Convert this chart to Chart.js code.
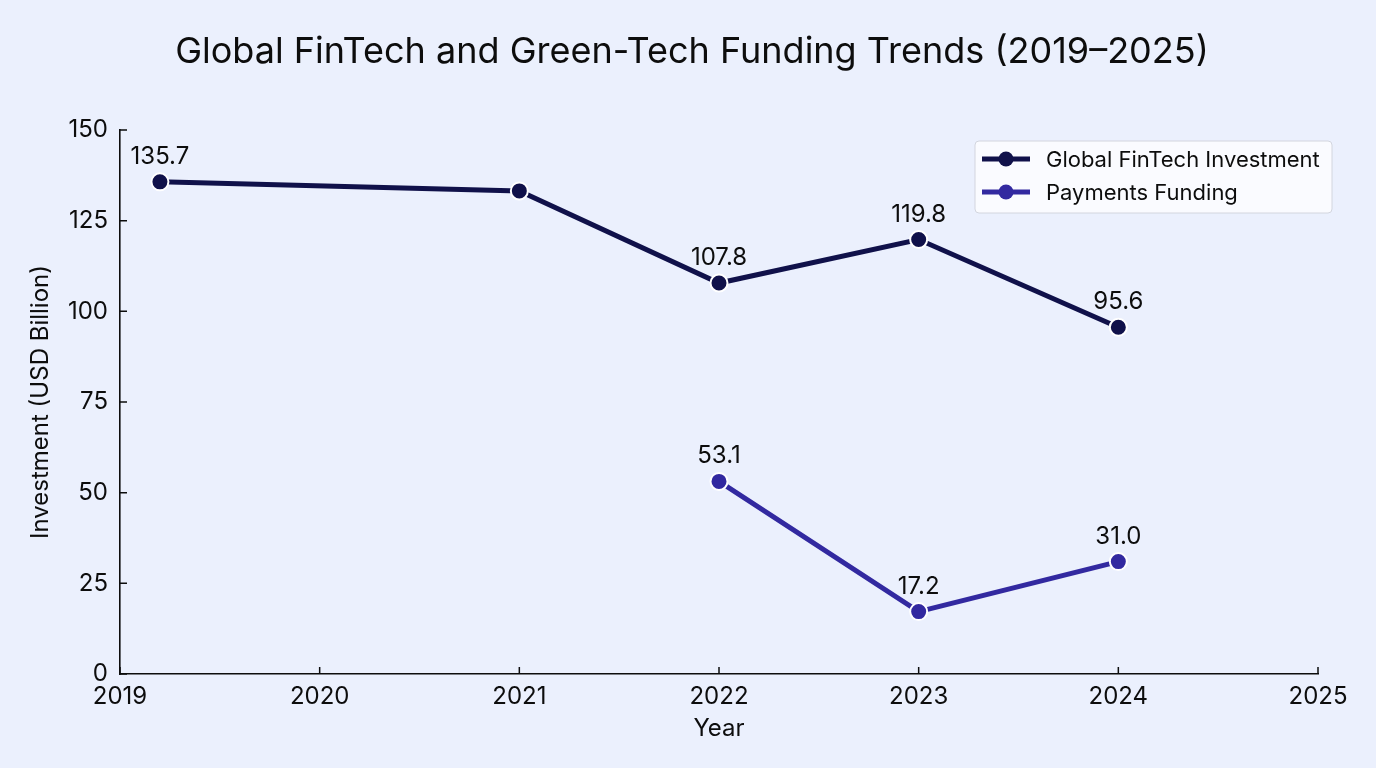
<!DOCTYPE html>
<html>
<head>
<meta charset="utf-8">
<script src="https://cdn.jsdelivr.net/npm/chart.js@4.4.1/dist/chart.umd.min.js"></script>
<style>
  html, body { margin: 0; padding: 0; background: #ebf0fd; }
  #wrap { width: 1376px; height: 768px; position: relative; }
</style>
</head>
<body>
<div id="wrap"><canvas id="chart" width="1376" height="768"></canvas></div>
<script>
// data
const fintechYears = [2019.2, 2021, 2022, 2023, 2024];
const fintechValues = [135.7, 133.2, 107.8, 119.8, 95.6];
const fintechShowLabel = [true, false, true, true, true];
const paymentsYears = [2022, 2023, 2024];
const paymentsValues = [53.1, 17.2, 31.0];
const xTicks = [2019, 2020, 2021, 2022, 2023, 2024, 2025];
const yTicks = [0, 25, 50, 75, 100, 125, 150];

const TITLE = 'Global FinTech and Green-Tech Funding Trends (2019–2025)';
const NAVY = '#10114a';
const PURPLE = '#3229a0';
const INK = '#0d0d0d';
const FONT = 'Inter, "DejaVu Sans", sans-serif';

Chart.defaults.font.family = FONT;
Chart.defaults.color = INK;

function toPoints(xs, ys) {
    return xs.map((x, i) => ({ x: x, y: ys[i] }));
}

// title centred on the whole canvas (the built-in one follows the layout padding)
const pageTitle = {
    id: 'pageTitle',
    afterDraw(chart) {
        const ctx = chart.ctx;
        ctx.save();
        ctx.font = '36px ' + FONT;
        ctx.fillStyle = INK;
        ctx.textAlign = 'center';
        ctx.textBaseline = 'alphabetic';
        ctx.fillText(TITLE, chart.width / 2 + 4, 63);
        ctx.restore();
    }
};

// ticks pointing into the plot, like the reference
const innerTicks = {
    id: 'innerTicks',
    afterDraw(chart) {
        const ctx = chart.ctx;
        const { left, bottom } = chart.chartArea;
        const xs = chart.scales.x, ys = chart.scales.y;
        ctx.save();
        ctx.strokeStyle = INK;
        ctx.lineWidth = 1.5;
        ctx.beginPath();
        xTicks.forEach(v => {
            const px = xs.getPixelForValue(v);
            ctx.moveTo(px, bottom);
            ctx.lineTo(px, bottom - 7);
        });
        yTicks.forEach(v => {
            const py = ys.getPixelForValue(v);
            ctx.moveTo(left, py);
            ctx.lineTo(left + 7, py);
        });
        ctx.stroke();
        ctx.restore();
    }
};

// value labels above the points
const valueLabels = {
    id: 'valueLabels',
    afterDatasetsDraw(chart) {
        const ctx = chart.ctx;
        ctx.save();
        ctx.font = '24px ' + FONT;
        ctx.fillStyle = INK;
        ctx.textAlign = 'center';
        ctx.textBaseline = 'alphabetic';
        chart.data.datasets.forEach((ds, di) => {
            const meta = chart.getDatasetMeta(di);
            meta.data.forEach((pt, i) => {
                if (ds.showLabel && !ds.showLabel[i]) return;
                ctx.fillText(ds.data[i].y.toFixed(1), pt.x, pt.y - 18);
            });
        });
        ctx.restore();
    }
};

// boxed legend in the upper right corner of the plot
const boxLegend = {
    id: 'boxLegend',
    afterDraw(chart) {
        const ctx = chart.ctx;
        const area = chart.chartArea;
        const w = 357, h = 72, rowH = 33;
        const x0 = area.right + 14 - w, y0 = area.top + 11;
        ctx.save();
        ctx.beginPath();
        ctx.roundRect(x0, y0, w, h, 4);
        ctx.fillStyle = 'rgba(255,255,255,0.75)';
        ctx.fill();
        ctx.strokeStyle = '#d2d5de';
        ctx.lineWidth = 1;
        ctx.stroke();
        ctx.font = '22px ' + FONT;
        ctx.textBaseline = 'middle';
        ctx.textAlign = 'left';
        chart.data.datasets.forEach((ds, i) => {
            const cy = y0 + 18 + i * rowH;
            ctx.strokeStyle = ds.borderColor;
            ctx.lineWidth = 5;
            ctx.beginPath();
            ctx.moveTo(x0 + 7, cy);
            ctx.lineTo(x0 + 55, cy);
            ctx.stroke();
            ctx.beginPath();
            ctx.arc(x0 + 31, cy, 7.5, 0, Math.PI * 2);
            ctx.fillStyle = ds.borderColor;
            ctx.fill();
            ctx.fillStyle = INK;
            ctx.fillText(ds.label, x0 + 71, cy + 1);
        });
        ctx.restore();
    }
};

const pointStyle = {
    borderWidth: 5,
    pointRadius: 8.5,
    pointHoverRadius: 8.5,
    pointBorderWidth: 2,
    pointBorderColor: '#ffffff',
    tension: 0,
    fill: false
};

new Chart(document.getElementById('chart').getContext('2d'), {
    type: 'line',
    data: {
        datasets: [
            Object.assign({
                label: 'Global FinTech Investment',
                data: toPoints(fintechYears, fintechValues),
                showLabel: fintechShowLabel,
                borderColor: NAVY,
                backgroundColor: NAVY,
                pointBackgroundColor: NAVY
            }, pointStyle),
            Object.assign({
                label: 'Payments Funding',
                data: toPoints(paymentsYears, paymentsValues),
                borderColor: PURPLE,
                backgroundColor: PURPLE,
                pointBackgroundColor: PURPLE
            }, pointStyle)
        ]
    },
    options: {
        responsive: false,
        animation: false,
        layout: { padding: { left: 0, right: 58, top: 130, bottom: 0 } },
        plugins: {
            legend: { display: false },
            tooltip: { enabled: false },
            title: { display: false }
        },
        scales: {
            x: {
                type: 'linear',
                min: 2019,
                max: 2025,
                afterFit(scale) { scale.height = 94; },
                afterBuildTicks(scale) { scale.ticks = xTicks.map(v => ({ value: v })); },
                grid: { display: false, drawTicks: false },
                border: { display: true, color: INK, width: 1.6 },
                ticks: {
                    padding: 8,
                    font: { size: 24 },
                    color: INK,
                    callback: v => String(v)
                },
                title: {
                    display: true,
                    text: 'Year',
                    font: { size: 24 },
                    color: INK,
                    padding: { top: 0, bottom: 25 }
                }
            },
            y: {
                min: 0,
                max: 150,
                afterFit(scale) { scale.width = 120; },
                afterBuildTicks(scale) { scale.ticks = yTicks.map(v => ({ value: v })); },
                grid: { display: false, drawTicks: false },
                border: { display: true, color: INK, width: 1.6 },
                ticks: {
                    padding: 12,
                    font: { size: 24 },
                    color: INK
                },
                title: {
                    display: true,
                    text: 'Investment (USD Billion)',
                    font: { size: 24 },
                    color: INK,
                    padding: { top: 26, bottom: 0 }
                }
            }
        }
    },
    plugins: [pageTitle, innerTicks, valueLabels, boxLegend]
});
</script>
</body>
</html>
